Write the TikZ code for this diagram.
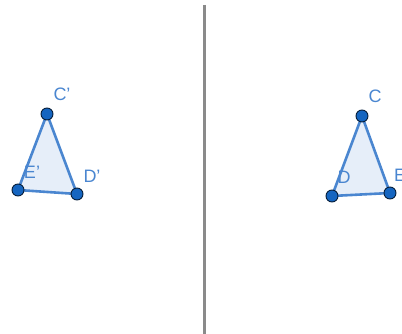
\documentclass[tikz,border=0pt]{standalone}
\usepackage{fontspec}
\setmainfont{Liberation Sans}
\usepackage{tikz}
\definecolor{ggblue}{HTML}{1565C0}
\definecolor{edgeblue}{HTML}{4A86D0}
\definecolor{fillblue}{HTML}{E6EEF9}
\definecolor{mirrorgray}{HTML}{8A8A8A}
\tikzset{
  pt/.style={circle, draw=black!70!ggblue, fill=ggblue, line width=0.9pt, inner sep=0pt, minimum size=12pt},
  lbl/.style={text=edgeblue, font=\fontsize{18}{20}\selectfont, inner sep=0pt}
}

\begin{document}
\begin{tikzpicture}[x=1pt, y=-1pt]

    % Frame
    \useasboundingbox (0,0) rectangle (402,334);

    % Mirror line
    \draw[mirrorgray, line width=3pt] (204.5,5) -- (204.5,334);

    % Image triangle C'D'E'
    \coordinate (cp) at (47,114);
    \coordinate (ep) at (18,190);
    \coordinate (dp) at (77,194);
    \filldraw[fill=fillblue, draw=edgeblue, line width=2.6pt, line join=round] (cp) -- (dp) -- (ep) -- cycle;
    \node[pt] (Cp) at (cp) {};
    \node[pt] (Ep) at (ep) {};
    \node[pt] (Dp) at (dp) {};
    \node[lbl] at (62,94) {C'};
    \node[lbl] at (32,172) {E'};
    \node[lbl] at (92,176) {D'};

    % Original triangle CDE
    \coordinate (c) at (362,116);
    \coordinate (d) at (332,196);
    \coordinate (e) at (390,193);
    \filldraw[fill=fillblue, draw=edgeblue, line width=2.6pt, line join=round] (c) -- (e) -- (d) -- cycle;
    \node[pt] (C) at (c) {};
    \node[pt] (D) at (d) {};
    \node[pt] (E) at (e) {};
    \node[lbl] at (375,96) {C};
    \node[lbl] at (344,177) {D};
    \node[lbl, anchor=west] at (394,175) {E};

\end{tikzpicture}
\end{document}
